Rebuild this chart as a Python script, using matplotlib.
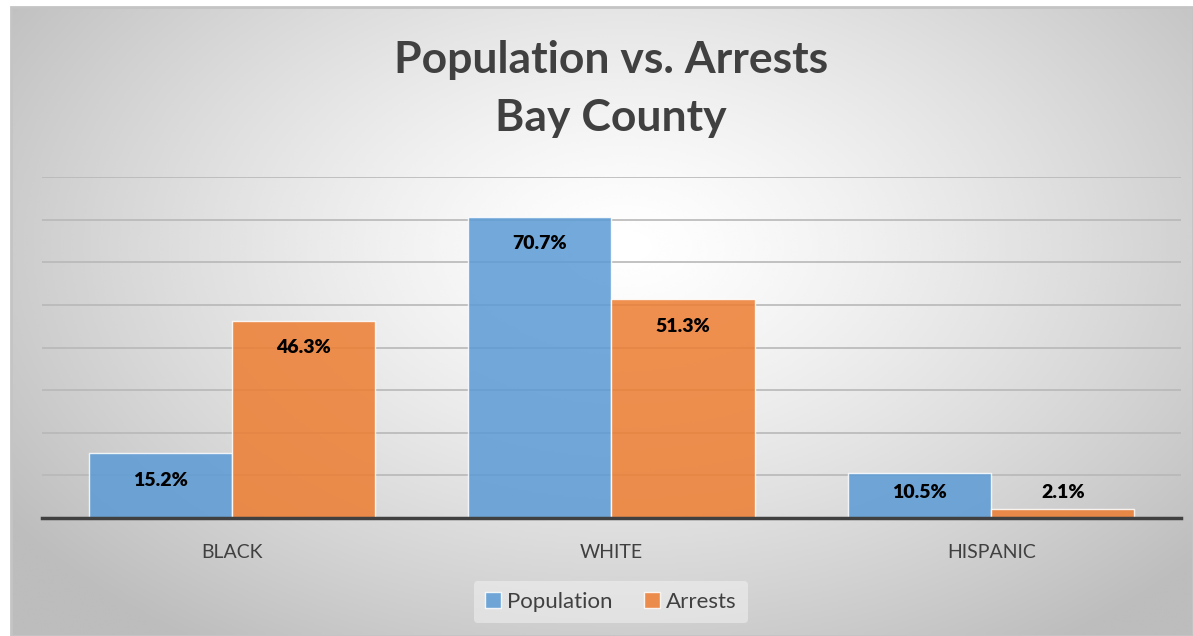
import numpy as np
import matplotlib.pyplot as plt
from matplotlib.patches import Rectangle

plt.rcParams['font.family'] = ['Lato', 'DejaVu Sans']

categories = ['BLACK', 'WHITE', 'HISPANIC']
population = [15.2, 70.7, 10.5]
arrests = [46.3, 51.3, 2.1]
series_names = ['Population', 'Arrests']

blue = '#5B9BD5'
orange = '#ED7D31'
dark = '#404040'

W, H = 1193, 636
fig = plt.figure(figsize=(W / 100, H / 100), dpi=100)

# radial gradient background inside the chart frame
bg = fig.add_axes([11 / W, 0, 1 - 11 / W, 1 - 7 / H])
yy, xx = np.mgrid[0:1:300j, 0:1:600j]
r = np.sqrt(((xx - 0.52) / 0.62) ** 2 + ((yy - 0.62) / 0.75) ** 2)
val = np.clip(1.0 - 0.25 * r ** 1.3, 0.74, 1.0)
bg.imshow(val, cmap='gray', vmin=0, vmax=1, aspect='auto',
          extent=[0, 1, 0, 1], origin='lower', interpolation='bicubic')
bg.set_xlim(0, 1)
bg.set_ylim(0, 1)
bg.axis('off')
bg.add_patch(Rectangle((0, 0), 1, 1, fill=False, edgecolor='#c4c4c4',
                       linewidth=2, transform=bg.transAxes, clip_on=False))

# main plot area
left, right = 42, 1181
bottom, top = 518, 177
ax = fig.add_axes([left / W, 1 - bottom / H, (right - left) / W, (bottom - top) / H])
ax.patch.set_alpha(0)

x = np.arange(len(categories))
bw = 0.377
ax.bar(x - bw / 2, population, bw, color=blue, alpha=0.85, edgecolor='white',
       linewidth=1, label=series_names[0], zorder=3)
ax.bar(x + bw / 2, arrests, bw, color=orange, alpha=0.85, edgecolor='white',
       linewidth=1, label=series_names[1], zorder=3)

for xs, vals in ((x - bw / 2, population), (x + bw / 2, arrests)):
    for xi, v in zip(xs, vals):
        ax.text(xi, max(v - 6.3, 6.0), f'{v:.1f}%', ha='center', va='center',
                fontsize=14, fontweight='heavy', color='black', zorder=4)

ax.set_xlim(-0.5, 2.5)
ax.set_ylim(0, 80)
ax.set_yticks(np.arange(0, 81, 10))
ax.yaxis.grid(True, color='#b8b8b8', linewidth=1.2, zorder=0)
ax.tick_params(axis='y', left=False, labelleft=False)
ax.tick_params(axis='x', bottom=False, labelsize=14, labelcolor=dark, pad=15)
ax.set_xticks(x)
ax.set_xticklabels(categories)
for s in ('top', 'right', 'left'):
    ax.spines[s].set_visible(False)
ax.spines['bottom'].set_color(dark)
ax.spines['bottom'].set_linewidth(2.5)
ax.spines['bottom'].set_zorder(5)

leg = fig.legend(loc='center', bbox_to_anchor=(611 / W, 1 - 602 / H), ncol=2,
                 frameon=True, fontsize=16, handlelength=0.7, handleheight=0.7,
                 handletextpad=0.3, columnspacing=1.4, borderpad=0.5)
leg.get_frame().set_facecolor('#f4f4f4')
leg.get_frame().set_edgecolor('none')
leg.get_frame().set_alpha(0.5)
for t in leg.get_texts():
    t.set_color(dark)

fig.text(611 / W, 1 - 89 / H, 'Population vs. Arrests\nBay County', ha='center',
         va='center', fontsize=32, fontweight='bold', color=dark, linespacing=1.55)

fig.savefig('out.png', dpi=100)
